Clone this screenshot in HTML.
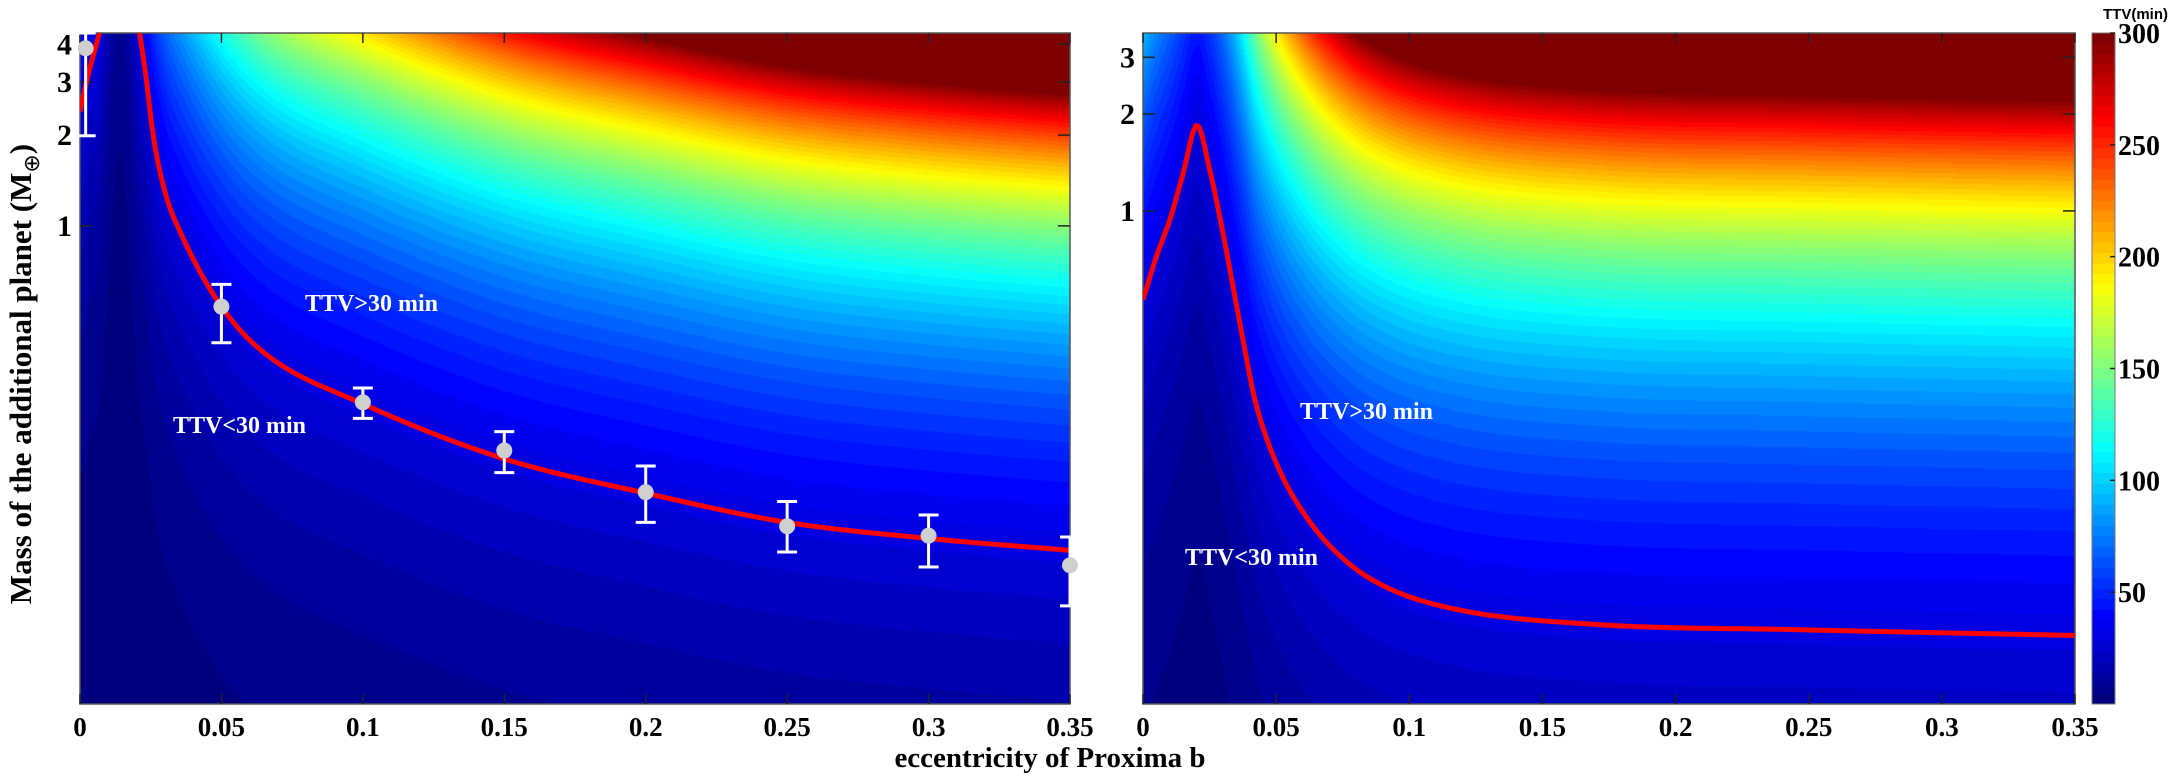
<!DOCTYPE html>
<html><head><meta charset="utf-8">
<style>
html,body{margin:0;padding:0;background:#fff;}
#wrap{position:relative;width:2170px;height:781px;overflow:hidden;}
canvas,svg{position:absolute;left:0;top:0;}
</style></head>
<body>
<div id="wrap">
<canvas id="cv" width="2170" height="781"></canvas>
<svg id="sv" width="2170" height="781" font-family="Liberation Serif, serif" font-weight="bold"></svg>
</div>
<script>
// ---- data ----
const xTicks = [0,0.05,0.1,0.15,0.2,0.25,0.3,0.35];
const xTickLabels = ["0","0.05","0.1","0.15","0.2","0.25","0.3","0.35"];
const leftYTicks = [1,2,3,4];
const rightYTicks = [1,2,3];
const cbTicks = [50,100,150,200,250,300];
// left panel TTV=30 min contour (eccentricity, mass)
const leftContourLeftE = [0,0.003,0.007];
const leftContourLeftM = [2.4,3.2,4.4];
const leftContourE = [0.021,0.023,0.026,0.03,0.036,0.05,0.065,0.1,0.15,0.2,0.25,0.3,0.35];
const leftContourM = [4.4,3.3,1.96,1.3,0.93,0.54,0.38,0.257,0.169,0.13,0.104,0.092,0.084];
// left panel heatmap reference mass at 30 min (incl. gap between branches)
const leftRefE = [0,0.003,0.007,0.014,0.021,0.023,0.026,0.03,0.036,0.05,0.065,0.1,0.15,0.2,0.25,0.3,0.35];
const leftRefM = [2.4,3.2,4.4,30,4.4,3.3,1.96,1.3,0.93,0.54,0.38,0.257,0.169,0.13,0.104,0.092,0.084];
// right panel contour
const rightContourE = [0,0.005,0.0101,0.015,0.0203,0.025,0.03,0.0375,0.042,0.05,0.062,0.076,0.091,0.117,0.169,0.247,0.35];
const rightContourM = [0.53,0.72,0.94,1.3,1.85,1.35,0.855,0.40,0.26,0.165,0.11,0.082,0.068,0.058,0.052,0.050,0.048];
// simulated points with error bars (left panel)
const ptE = [0.002,0.05,0.1,0.15,0.2,0.25,0.3,0.35];
const ptM = [3.88,0.54,0.26,0.18,0.131,0.101,0.094,0.075];
const ptLo = [1.99,0.41,0.23,0.152,0.104,0.083,0.074,0.055];
const ptHi = [4.44,0.64,0.29,0.208,0.160,0.122,0.110,0.093];
const annTexts = ["TTV>30 min","TTV<30 min"];

// ---- layout ----
const L = {x0:80,x1:1070,y0:33,y1:704,mTop:4.36,mBot:0.026,p:0.66};
const R = {x0:1143,x1:2075,y0:33,y1:704,mTop:3.57,mBot:0.0294,p:0.6};
const CB = {x0:2092,x1:2115,y0:33,y1:704,vmax:300};
const EMAX = 0.35;
function xs(P,e){return P.x0+(P.x1-P.x0)*e/EMAX;}
function ys(P,m){return P.y0+(P.y1-P.y0)*(Math.log10(P.mTop)-Math.log10(m))/(Math.log10(P.mTop)-Math.log10(P.mBot));}
function minv(P,y){const t=(y-P.y0)/(P.y1-P.y0);return Math.pow(10,Math.log10(P.mTop)-t*(Math.log10(P.mTop)-Math.log10(P.mBot)));}
// monotone cubic interpolation in log mass
function interpLog(E,M,e){
  const n=E.length;
  if(e<=E[0])return M[0]; if(e>=E[n-1])return M[n-1];
  const Y=M.map(v=>Math.log10(v));const d=[],m=[];
  for(let i=0;i<n-1;i++)d.push((Y[i+1]-Y[i])/(E[i+1]-E[i]));
  m[0]=d[0];m[n-1]=d[n-2];
  for(let i=1;i<n-1;i++){m[i]=(d[i-1]*d[i]<=0)?0:(d[i-1]+d[i])/2;}
  for(let i=0;i<n-1;i++){if(d[i]===0){m[i]=0;m[i+1]=0;continue;}const a=m[i]/d[i],b=m[i+1]/d[i];const s=a*a+b*b;if(s>9){const t=3/Math.sqrt(s);m[i]=t*a*d[i];m[i+1]=t*b*d[i];}}
  let i=0;while(e>E[i+1])i++;
  const h=E[i+1]-E[i],t=(e-E[i])/h;
  const h00=2*t*t*t-3*t*t+1,h10=t*t*t-2*t*t+t,h01=-2*t*t*t+3*t*t,h11=t*t*t-t*t;
  return Math.pow(10,h00*Y[i]+h10*h*m[i]+h01*Y[i+1]+h11*h*m[i+1]);
}
function jet(v){
  const c=x=>Math.max(0,Math.min(1,x));
  const r=c(Math.min(4*v-1.5,-4*v+4.5)),g=c(Math.min(4*v-0.5,-4*v+3.5)),b=c(Math.min(4*v+0.5,-4*v+2.5));
  return [r*255|0,g*255|0,b*255|0];
}
function qjet(ttv){let v=ttv/300;v=Math.max(0,Math.min(1,v));v=Math.floor(v*63.999)/63;return jet(v);}

const cv=document.getElementById('cv');const ctx=cv.getContext('2d');
ctx.fillStyle='#fff';ctx.fillRect(0,0,2170,781);
const img=ctx.getImageData(0,0,2170,781);const D=img.data;
function paint(P,E,M){
  for(let x=P.x0;x<P.x1;x++){
    const e=(x+0.5-P.x0)/(P.x1-P.x0)*EMAX;const mc=interpLog(E,M,e);
    for(let y=P.y0;y<P.y1;y++){
      const m=minv(P,y+0.5);const ttv=30*Math.pow(m/mc,P.p);
      const c=qjet(ttv);const i=(y*2170+x)*4;D[i]=c[0];D[i+1]=c[1];D[i+2]=c[2];D[i+3]=255;
    }
  }
}
paint(L,leftRefE,leftRefM);
paint(R,rightContourE,rightContourM);
for(let y=CB.y0;y<CB.y1;y++){const v=(CB.y1-y-0.5)/(CB.y1-CB.y0)*CB.vmax;const c=qjet(v);
  for(let x=CB.x0;x<CB.x1;x++){const i=(y*2170+x)*4;D[i]=c[0];D[i+1]=c[1];D[i+2]=c[2];D[i+3]=255;}}
ctx.putImageData(img,0,0);

const NS='http://www.w3.org/2000/svg';const sv=document.getElementById('sv');
function mk(tag,attrs,parent){const el=document.createElementNS(NS,tag);for(const k in attrs)el.setAttribute(k,attrs[k]);(parent||sv).appendChild(el);return el;}

function axes(P,yTicks,name){
  const g=mk('g',{});
  
  
  mk('rect',{x:P.x0,y:P.y0,width:P.x1-P.x0,height:P.y1-P.y0,fill:'none',stroke:'#555','stroke-width':1.5},g);
  xTicks.forEach((t,i)=>{const x=xs(P,t);
    mk('line',{x1:x,x2:x,y1:P.y1,y2:P.y1-10,stroke:'#222','stroke-width':1.5},g);
    mk('line',{x1:x,x2:x,y1:P.y0,y2:P.y0+10,stroke:'#222','stroke-width':1.5},g);
    const tx=mk('text',{x:x,y:P.y1+32,'font-size':27,'text-anchor':'middle',fill:'#000'},g);
    tx.textContent=xTickLabels[i];
    
    
  });
  yTicks.forEach(t=>{const y=ys(P,t);
    mk('line',{x1:P.x0,x2:P.x0+12,y1:y,y2:y,stroke:'#222','stroke-width':1.5},g);
    mk('line',{x1:P.x1,x2:P.x1-12,y1:y,y2:y,stroke:'#222','stroke-width':1.5},g);
    const tx=mk('text',{x:P.x0-8,y:y+10,'font-size':30,'text-anchor':'end',fill:'#000'},g);
    tx.textContent=String(t);
    
    
  });
}
function curve(P,E,M,name){
  const pts=[];const e0=E[0],e1=E[E.length-1];const N=300;
  for(let k=0;k<=N;k++){const e=e0+(e1-e0)*k/N;pts.push(xs(P,e).toFixed(1)+','+ys(P,interpLog(E,M,e)).toFixed(1));}
  const cid='clip'+name;const cp=mk('clipPath',{id:cid});mk('rect',{x:P.x0,y:P.y0,width:P.x1-P.x0,height:P.y1-P.y0},cp);
  const pl=mk('polyline',{points:pts.join(' '),fill:'none',stroke:'#ff0000','stroke-width':5,'stroke-linejoin':'round','clip-path':'url(#'+cid+')'});
  
  
}
axes(L,leftYTicks,'left');
axes(R,rightYTicks,'right');
curve(L,leftContourLeftE,leftContourLeftM,'left-contour-branch-a');
curve(L,leftContourE,leftContourM,'left-contour-30min');
curve(R,rightContourE,rightContourM,'right-contour-30min');

// error bar points
ptE.forEach((e,i)=>{
  const g=mk('g',{});
  
  
  const x=xs(L,e);const yh=Math.max(L.y0,ys(L,ptHi[i]));const yl=ys(L,ptLo[i]);const y=ys(L,ptM[i]);
  mk('line',{x1:x,x2:x,y1:yh,y2:yl,stroke:'#fff','stroke-width':3},g);
  mk('line',{x1:x-10,x2:x+10,y1:yh,y2:yh,stroke:'#fff','stroke-width':3},g);
  mk('line',{x1:x-10,x2:x+10,y1:yl,y2:yl,stroke:'#fff','stroke-width':3},g);
  mk('circle',{cx:x,cy:y,r:8,fill:'#cfcfcf'},g);
});

// annotations
function ann(x,y,t,name){const tx=mk('text',{x:x,y:y,'font-size':24,fill:'#fff'});tx.textContent=t;
  
  }
ann(305,311,annTexts[0],'left-label-above');
ann(173,433,annTexts[1],'left-label-below');
ann(1300,419,annTexts[0],'right-label-above');
ann(1185,565,annTexts[1],'right-label-below');

// colorbar
mk('rect',{x:CB.x0,y:CB.y0,width:CB.x1-CB.x0,height:CB.y1-CB.y0,fill:'none',stroke:'#777','stroke-width':1});
cbTicks.forEach(t=>{const y=CB.y1-(CB.y1-CB.y0)*t/CB.vmax;
  mk('line',{x1:CB.x1-5,x2:CB.x1,y1:y,y2:y,stroke:'#222','stroke-width':1.5});
  const tx=mk('text',{x:CB.x1+3,y:y+10,'font-size':28,fill:'#000'});tx.textContent=String(t);
  
  
});
const cbt=mk('text',{x:2168,y:19,'font-size':15,'text-anchor':'end','font-family':'Liberation Sans, sans-serif',fill:'#000'});
cbt.textContent='TTV(min)';



// axis titles
const xt=mk('text',{x:1050,y:767,'font-size':29,'text-anchor':'middle',fill:'#000'});
xt.textContent='eccentricity of Proxima b';


const yt=mk('text',{x:0,y:0,'font-size':31,'text-anchor':'middle',fill:'#000',transform:'translate(31,374) rotate(-90)'});
yt.innerHTML='Mass of the additional planet (M<tspan font-size="22" dy="8" font-weight="normal">⊕</tspan><tspan dy="-8">)</tspan>';


</script>
</body></html>
